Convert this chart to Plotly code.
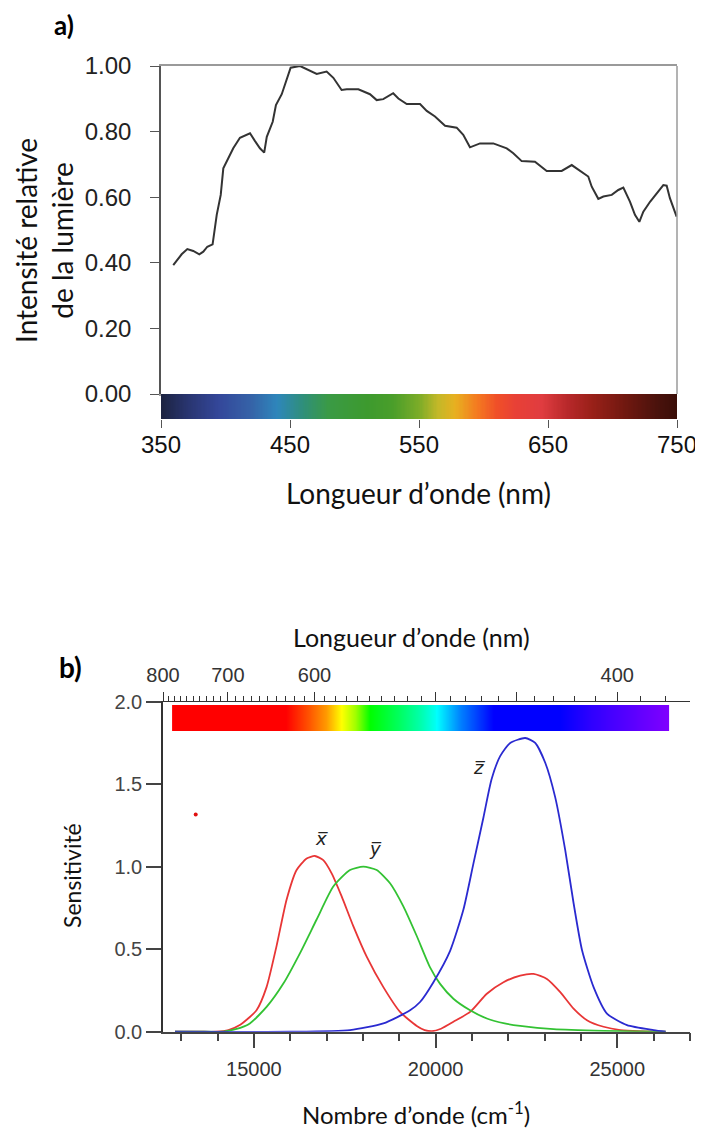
import numpy as np
import plotly.graph_objects as go

# ---------------- Chart a) data ----------------
wavelength_nm = [359.5, 366, 370.4, 375, 379.7, 382.8, 385.9, 390, 393.2, 396.3, 398.3, 401.4, 406,
                 411.2, 419, 422.9, 426.7, 430, 432, 436.6, 439.1, 443.6, 446.1, 450.5, 457.8, 463,
                 470.7, 478.4, 483.6, 490, 494, 503, 512, 517.2, 522.3, 530, 534, 540.5, 550.8, 556,
                 562.4, 570.2, 579.2, 584.3, 589.5, 597.3, 607.6, 618, 623.1, 629.6, 639.9, 649,
                 660.6, 668.4, 676.1, 681.2, 683.9, 689, 692.9, 699.4, 704.5, 708.4, 713.6, 717.4,
                 720.8, 723.9, 729.1, 735.5, 739.4, 742, 744.5, 749.7]
intensity = [0.393, 0.426, 0.442, 0.436, 0.426, 0.434, 0.449, 0.456, 0.546, 0.607, 0.688, 0.713,
             0.749, 0.781, 0.795, 0.771, 0.749, 0.736, 0.784, 0.830, 0.881, 0.914, 0.942, 0.995,
             1.0, 0.991, 0.976, 0.983, 0.964, 0.927, 0.929, 0.929, 0.914, 0.896, 0.899, 0.917,
             0.901, 0.884, 0.884, 0.863, 0.846, 0.818, 0.812, 0.790, 0.752, 0.764, 0.764, 0.749,
             0.734, 0.710, 0.708, 0.680, 0.680, 0.698, 0.678, 0.663, 0.632, 0.595, 0.602, 0.607,
             0.622, 0.629, 0.586, 0.546, 0.525, 0.556, 0.586, 0.617, 0.637, 0.635, 0.597, 0.541]
a_yticks = [0.0, 0.2, 0.4, 0.6, 0.8, 1.0]
a_yticklabels = ["0.00", "0.20", "0.40", "0.60", "0.80", "1.00"]
a_xticks = [350, 450, 550, 650, 750]

# spectrum strip for a) : wavelength -> colour
a_strip_nm = [350, 370, 395, 420, 440, 460, 480, 510, 530, 550, 565, 578, 595, 610, 625, 645,
              665, 685, 710, 735, 750]
a_strip_col = ["#1c2340", "#28346e", "#34479a", "#3563a8", "#2e86bb", "#2f8f7a", "#3a9a45",
               "#3d9a2e", "#4a9e2a", "#7cac28", "#c4b828", "#e8b020", "#f47a20", "#f05028",
               "#e84036", "#e03c40", "#b8282a", "#982018", "#701810", "#4a120c", "#3a0e08"]

# ---------------- Chart b) data ----------------
xbar_wn = [12830, 13500, 13970, 14300, 14614, 15073, 15349, 15625, 15900, 16176, 16452, 16680,
           16910, 17140, 17416, 17736, 18104, 18563, 19022, 19482, 19700, 19900, 20150, 20490,
           20950, 21410, 21868, 22328, 22695, 23063, 23430, 23796, 24165, 24623, 25083, 25600,
           26330]
xbar = [0, 0, 0, 0.01, 0.04, 0.13, 0.27, 0.52, 0.80, 0.98, 1.05, 1.065, 1.04, 0.96, 0.82, 0.64,
        0.455, 0.27, 0.12, 0.035, 0.01, 0.003, 0.018, 0.06, 0.12, 0.23, 0.30, 0.34, 0.35, 0.32,
        0.24, 0.14, 0.07, 0.03, 0.01, 0.003, 0]
ybar_wn = [12830, 13500, 14154, 14500, 14890, 15350, 15807, 16267, 16727, 17185, 17645, 18011,
           18380, 18747, 19113, 19482, 19848, 20124, 20490, 20950, 21410, 21900, 22328, 23245,
           24623, 25500, 26330]
ybar = [0, 0, 0, 0.015, 0.05, 0.15, 0.29, 0.475, 0.68, 0.88, 0.98, 1.0, 0.98, 0.90, 0.76, 0.58,
        0.39, 0.29, 0.20, 0.13, 0.08, 0.05, 0.035, 0.015, 0.005, 0.002, 0]
zbar_wn = [12830, 16000, 17645, 18563, 19298, 19573, 19940, 20400, 20766, 21042, 21318,
           21540, 21777, 22053, 22466, 22741, 23017, 23292, 23567, 23796, 24028, 24347, 24715,
           25267, 26000, 26330]
zbar = [0, 0, 0.01, 0.05, 0.13, 0.18, 0.30, 0.49, 0.74, 1.02, 1.30, 1.53, 1.67, 1.75,
        1.78, 1.75, 1.63, 1.42, 1.10, 0.78, 0.495, 0.27, 0.11, 0.04, 0.01, 0]
stray_dot = ([13400], [1.317])
b_nm_major = [800, 700, 600, 500, 450, 400]
b_nm_major_labels = ["800", "700", "600", " ", " ", "400"]
b_nm_minor = list(range(380, 801, 10))
b_xticks = [15000, 20000, 25000]
b_xticklabels = ["15000", "20000", "25000"]

# spectrum strip for b) : wavenumber -> colour
b_strip_wn = [12750, 15900, 16500, 17000, 17420, 17800, 18200, 19000, 19600, 20050, 20700,
              21600, 23400, 24300, 26420]
b_strip_col = ["#ff0000", "#ff0000", "#ff5000", "#ff9a00", "#ffff00", "#a0ff00", "#00ff00",
               "#00ff60", "#00ffb0", "#00ffff", "#0080ff", "#0000ff", "#0000ff", "#3000ff",
               "#8000ff"]


def scale(stops, cols):
    lo, hi = stops[0], stops[-1]
    return [[(s - lo) / (hi - lo), c] for s, c in zip(stops, cols)]


# page has an 8px body margin: lay out in window pixels and convert
OFF = 8
W, H = 703 - OFF, 1138 - OFF


def PX(x):
    return (x - OFF) / W


def PY(y):
    return 1 - (y - OFF) / H


TICKFONT = "Liberation Sans, Arial, sans-serif"
TITLEFONT = "Lato, Open Sans, sans-serif"

fig = go.Figure()

# a) curve
fig.add_trace(go.Scatter(x=wavelength_nm, y=intensity, mode="lines",
                         line=dict(color="#333333", width=2), xaxis="x", yaxis="y",
                         showlegend=False))
# a) strip
n_a = 400
edges_a = np.linspace(a_strip_nm[0], a_strip_nm[-1], n_a + 1)
cent_a = (edges_a[:-1] + edges_a[1:]) / 2
fig.add_trace(go.Heatmap(x=edges_a, y=[0, 1], z=[cent_a], colorscale=scale(a_strip_nm, a_strip_col),
                         zmin=a_strip_nm[0], zmax=a_strip_nm[-1], showscale=False,
                         xaxis="x2", yaxis="y2", hoverinfo="skip"))

# b) strip
n_b = 500
edges_b = np.linspace(b_strip_wn[0], b_strip_wn[-1], n_b + 1)
cent_b = (edges_b[:-1] + edges_b[1:]) / 2
fig.add_trace(go.Heatmap(x=edges_b, y=[1.82, 1.98], z=[cent_b],
                         colorscale=scale(b_strip_wn, b_strip_col),
                         zmin=b_strip_wn[0], zmax=b_strip_wn[-1], showscale=False,
                         xaxis="x3", yaxis="y3", hoverinfo="skip"))
# b) curves
for xs, ys, col in [(xbar_wn, xbar, "#e83636"), (ybar_wn, ybar, "#33c233"),
                    (zbar_wn, zbar, "#2a2ad0")]:
    fig.add_trace(go.Scatter(x=xs, y=ys, mode="lines", line=dict(color=col, width=1.8,
                             shape="spline", smoothing=0.6), xaxis="x3", yaxis="y3",
                             showlegend=False))
fig.add_trace(go.Scatter(x=stray_dot[0], y=stray_dot[1], mode="markers",
                         marker=dict(color="#e01010", size=4), xaxis="x3", yaxis="y3",
                         showlegend=False))
# invisible anchor trace so that the top wavelength axis is drawn
fig.add_trace(go.Scatter(x=stray_dot[0], y=stray_dot[1], mode="markers",
                         marker=dict(opacity=0), xaxis="x4", yaxis="y3",
                         showlegend=False, hoverinfo="skip"))

ax_dom = [PX(161), PX(677)]
b_dom = [PX(163), PX(690)]

fig.update_layout(
    width=W, height=H, margin=dict(l=0, r=0, t=0, b=0, autoexpand=False),
    paper_bgcolor="white", plot_bgcolor="white", showlegend=False,
    xaxis=dict(domain=ax_dom, anchor="y", range=[350, 750], showticklabels=False, ticks="",
               showgrid=False, zeroline=False, showline=True, mirror=True, linecolor="#9a9a9a",
               linewidth=1.5, automargin=False),
    yaxis=dict(domain=[PY(394), PY(66)], anchor="x", range=[0, 1.0], tickvals=a_yticks,
               ticktext=a_yticklabels, ticks="outside", ticklen=9, tickcolor="#555",
               showline=True, linecolor="#555", linewidth=1.5, showgrid=False, zeroline=False,
               tickfont=dict(family=TICKFONT, size=24, color="#222"), ticklabelstandoff=14,
               automargin=False),
    xaxis2=dict(domain=ax_dom, anchor="y2", range=[350, 750], tickvals=a_xticks,
                ticks="outside", ticklen=8, tickcolor="#555", showgrid=False, zeroline=False,
                showline=False, tickfont=dict(family=TICKFONT, size=24, color="#111"),
                ticklabelstandoff=-4, automargin=False),
    yaxis2=dict(domain=[PY(419), PY(394)], anchor="x2", range=[0, 1], visible=False),
    xaxis3=dict(domain=b_dom, anchor="y3", range=[12500, 27000], tickvals=b_xticks,
                ticktext=b_xticklabels,
                ticks="outside", ticklen=15, tickcolor="#444", tickwidth=1.5,
                minor=dict(dtick=1000, tick0=0, ticks="outside", ticklen=8, tickcolor="#444",
                           tickwidth=1.5),
                showline=True, linecolor="#444", linewidth=1.5, showgrid=False, zeroline=False,
                tickfont=dict(family=TICKFONT, size=20, color="#333"), ticklabelstandoff=4,
                automargin=False),
    xaxis4=dict(overlaying="x3", anchor="y3", side="top", range=[12500, 27000],
                tickmode="array", tickvals=[1e7 / v for v in b_nm_major],
                ticktext=b_nm_major_labels, ticks="outside", ticklen=9, tickcolor="#333",
                tickwidth=1.3,
                minor=dict(tickmode="array", tickvals=[1e7 / v for v in b_nm_minor],
                           ticks="outside", ticklen=5, tickcolor="#333", tickwidth=1),
                showline=True, linecolor="#333", linewidth=1.3, showgrid=False, zeroline=False,
                tickfont=dict(family=TICKFONT, size=20, color="#333"), ticklabelstandoff=2,
                automargin=False),
    yaxis3=dict(domain=[PY(1031.7), PY(701.7)], anchor="x3", range=[0, 2],
                tickvals=[0, 0.5, 1.0, 1.5, 2.0], ticktext=["0.0", "0.5", "1.0", "1.5", "2.0"],
                ticks="outside", ticklen=15, tickcolor="#444", tickwidth=1.5,
                showline=True, linecolor="#333", linewidth=1.5, showgrid=False, zeroline=False,
                tickfont=dict(family=TICKFONT, size=20, color="#444"), automargin=False),
)

# right border of a)
fig.add_shape(type="line", xref="x domain", yref="y domain", x0=1, x1=1, y0=0, y1=1,
              line=dict(color="#9a9a9a", width=1.5))

ann = [
    dict(text="<b>a)</b>", x=PX(64), y=PY(25), font=dict(family=TITLEFONT, size=26, color="black")),
    dict(text="Intensité relative<br>de la lumière", x=PX(44), y=PY(241), textangle=-90,
         font=dict(family=TITLEFONT, size=28, color="#111")),
    dict(text="Longueur d’onde (nm)", x=PX(418), y=PY(493),
         font=dict(family=TITLEFONT, size=28, color="#111")),
    dict(text="<b>b)</b>", x=PX(70), y=PY(667), font=dict(family=TITLEFONT, size=28, color="black")),
    dict(text="Longueur d’onde (nm)", x=PX(411), y=PY(637),
         font=dict(family=TITLEFONT, size=25, color="#111")),
    dict(text="Sensitivité", x=PX(72), y=PY(876), textangle=-90,
         font=dict(family=TITLEFONT, size=23, color="#111")),
    dict(text="Nombre d’onde (cm<sup>-1</sup>)", x=PX(416), y=PY(1113),
         font=dict(family=TITLEFONT, size=24, color="#111")),
]
for a in ann:
    fig.add_annotation(xref="paper", yref="paper", showarrow=False, xanchor="center",
                       yanchor="middle", **a)

for lbl, xv, yv in [("x\u0305", 16865, 1.17), ("y\u0305", 18333, 1.11), ("z\u0305", 21207, 1.60)]:
    fig.add_annotation(xref="x3", yref="y3", x=xv, y=yv, text="<i>" + lbl + "</i>",
                       showarrow=False, font=dict(family="DejaVu Sans, sans-serif", size=18,
                                                  color="#222"))

fig.write_html("out.html")
